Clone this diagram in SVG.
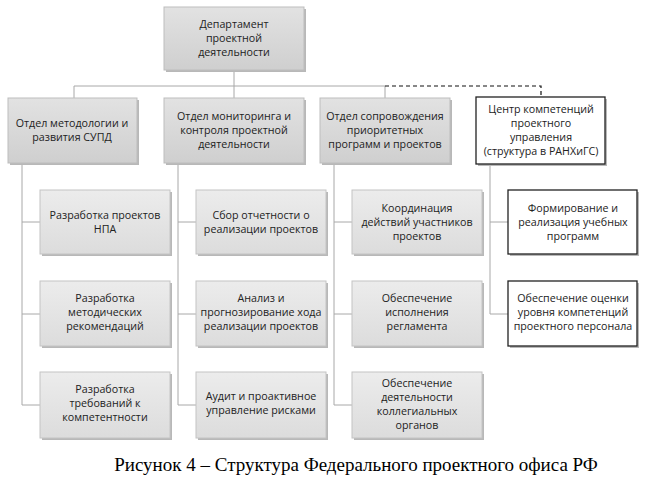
<svg xmlns="http://www.w3.org/2000/svg" width="650" height="485" viewBox="0 0 650 485">
<defs>
<linearGradient id="g1" x1="0" y1="0" x2="0" y2="1"><stop offset="0" stop-color="#e2e2e2"/><stop offset="1" stop-color="#cfcfcf"/></linearGradient>
<linearGradient id="g2" x1="0" y1="0" x2="0" y2="1"><stop offset="0" stop-color="#ececec"/><stop offset="1" stop-color="#dcdcdc"/></linearGradient>
</defs>
<style>
.sh{fill:#b8b8b8}
.b1{fill:url(#g1);stroke:#bdbdbd;stroke-width:1}
.b2{fill:url(#g2);stroke:#c4c4c4;stroke-width:1}
.bw{fill:#fff;stroke:#222;stroke-width:1.3}
.c{fill:none;stroke:#a8a8a8;stroke-width:1}
text{font-family:"Open Sans","DejaVu Sans",sans-serif;font-size:10.7px;fill:#222;text-anchor:middle}
.cap{font-family:"Liberation Serif",serif;font-size:19px;fill:#000}
</style>
<g id="connectors">
<path class="c" d="M234 70V86M74 86H385M74 86V98M234 86V98M385 86V98"/>
<path d="M385 86H541V97" fill="none" stroke="#111" stroke-width="1.2" stroke-dasharray="4,3"/>
<path class="c" d="M22 163V405H40M22 222H40M22 314H40"/>
<path class="c" d="M178 163V405H196M178 222H196M178 314H196"/>
<path class="c" d="M334 163V405H352M334 222H352M334 314H352"/>
<path class="c" d="M490 164V314H508M490 222H508"/>
</g>
<g id="dept"><rect class="sh" x="166" y="9" width="140" height="63"/><rect class="b1" x="164" y="7" width="140" height="63"/><text x="234" y="28">Департамент</text><text x="234" y="42">проектной</text><text x="234" y="56">деятельности</text></g>
<g id="otd1"><rect class="sh" x="10" y="100" width="129" height="65"/><rect class="b1" x="8" y="98" width="129" height="65"/><text x="72" y="127">Отдел методологии и</text><text x="72" y="141">развития СУПД</text></g>
<g id="otd2"><rect class="sh" x="166" y="100" width="140" height="65"/><rect class="b1" x="164" y="98" width="140" height="65"/><text x="234" y="120">Отдел мониторинга и</text><text x="234" y="134">контроля проектной</text><text x="234" y="148">деятельности</text></g>
<g id="otd3"><rect class="sh" x="322" y="100" width="130" height="65"/><rect class="b1" x="320" y="98" width="130" height="65"/><text x="385" y="120">Отдел сопровождения</text><text x="385" y="134">приоритетных</text><text x="385" y="148">программ и проектов</text></g>
<g id="center"><rect class="sh" x="478" y="99" width="129" height="67"/><rect class="bw" x="476" y="97" width="129" height="67"/><text x="541" y="113">Центр компетенций</text><text x="541" y="127">проектного</text><text x="541" y="141">управления</text><text x="541" y="155">(структура в РАНХиГС)</text></g>
<g id="n11"><rect class="sh" x="42" y="192" width="130" height="64"/><rect class="b2" x="40" y="190" width="130" height="64"/><text x="105" y="219">Разработка проектов</text><text x="105" y="233">НПА</text></g>
<g id="n12"><rect class="sh" x="42" y="283" width="130" height="65"/><rect class="b2" x="40" y="281" width="130" height="65"/><text x="105" y="302">Разработка</text><text x="105" y="316">методических</text><text x="105" y="330">рекомендаций</text></g>
<g id="n13"><rect class="sh" x="42" y="374" width="130" height="66"/><rect class="b2" x="40" y="372" width="130" height="66"/><text x="105" y="393">Разработка</text><text x="105" y="407">требований к</text><text x="105" y="421">компетентности</text></g>
<g id="n21"><rect class="sh" x="198" y="192" width="130" height="64"/><rect class="b2" x="196" y="190" width="130" height="64"/><text x="261" y="219">Сбор отчетности о</text><text x="261" y="233">реализации проектов</text></g>
<g id="n22"><rect class="sh" x="198" y="283" width="130" height="65"/><rect class="b2" x="196" y="281" width="130" height="65"/><text x="261" y="302">Анализ и</text><text x="261" y="316">прогнозирование хода</text><text x="261" y="330">реализации проектов</text></g>
<g id="n23"><rect class="sh" x="198" y="374" width="130" height="66"/><rect class="b2" x="196" y="372" width="130" height="66"/><text x="261" y="400">Аудит и проактивное</text><text x="261" y="414">управление рисками</text></g>
<g id="n31"><rect class="sh" x="354" y="192" width="130" height="64"/><rect class="b2" x="352" y="190" width="130" height="64"/><text x="417" y="212">Координация</text><text x="417" y="226">действий участников</text><text x="417" y="240">проектов</text></g>
<g id="n32"><rect class="sh" x="354" y="283" width="130" height="65"/><rect class="b2" x="352" y="281" width="130" height="65"/><text x="417" y="302">Обеспечение</text><text x="417" y="316">исполнения</text><text x="417" y="330">регламента</text></g>
<g id="n33"><rect class="sh" x="354" y="374" width="130" height="66"/><rect class="b2" x="352" y="372" width="130" height="66"/><text x="417" y="387">Обеспечение</text><text x="417" y="401">деятельности</text><text x="417" y="415">коллегиальных</text><text x="417" y="429">органов</text></g>
<g id="n41"><rect class="sh" x="510" y="192" width="129" height="64"/><rect class="bw" x="508" y="190" width="129" height="64"/><text x="573" y="212">Формирование и</text><text x="573" y="226">реализация учебных</text><text x="573" y="240">программ</text></g>
<g id="n42"><rect class="sh" x="510" y="283" width="129" height="65"/><rect class="bw" x="508" y="281" width="129" height="65"/><text x="573" y="302">Обеспечение оценки</text><text x="573" y="316">уровня компетенций</text><text x="573" y="330">проектного персонала</text></g>
<text class="cap" x="356" y="471">Рисунок 4 – Структура Федерального проектного офиса РФ</text>
</svg>
